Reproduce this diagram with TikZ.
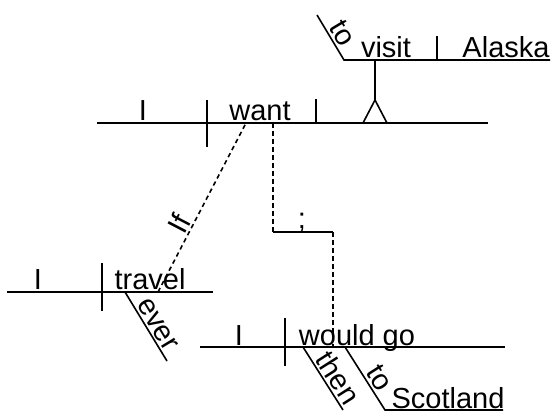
\documentclass[tikz,border=0pt]{standalone}
\usepackage{fontspec}
\setmainfont{Liberation Sans}
\begin{document}
\begin{tikzpicture}[x=1pt,y=-1pt, line width=1.6pt,
  every node/.style={font=\fontsize{29}{33}\selectfont, inner sep=0pt},
  word/.style={anchor=base},
  slab/.style={sloped, above, inner sep=2pt},
  dsh/.style={dash pattern=on 4.5pt off 3.5pt}]
\useasboundingbox (0,0) rectangle (556,412);

% ---- main clause: I want ...
\coordinate (mL) at (97,123); \coordinate (mR) at (488,123);
\coordinate (sv1) at (207,100); \coordinate (sv2) at (207,147);
\coordinate (vo1) at (316,99); \coordinate (vo2) at (316,123);
\draw (mL) -- (mR);
\draw (sv1) -- (sv2);
\draw (vo1) -- (vo2);
\node[word] (I1) at (143,120) {I};
\node[word] (want) at (260,120) {want};

% ---- infinitive phrase: to visit Alaska
\coordinate (tTo) at (317,15); \coordinate (tL) at (344,60); \coordinate (tR) at (550,60);
\coordinate (vb1) at (437,36); \coordinate (vb2) at (437,60);
\coordinate (st1) at (375,60); \coordinate (st2) at (375,100);
\coordinate (lg1) at (363,123); \coordinate (lg2) at (387,123);
\draw (tTo) -- node[slab, pos=0.55]{to} (tL) -- (tR);
\draw (vb1) -- (vb2);
\draw (st1) -- (st2);
\draw (lg1) -- (st2) -- (lg2);
\node[word] (visit) at (386,57) {visit};
\node[word] (alaska) at (506,57) {Alaska};

% ---- subordinate clause: If I ever travel
\coordinate (ifT) at (246,123); \coordinate (ifB) at (158,292);
\draw[dsh] (ifB) -- node[slab, pos=0.37]{If} (ifT);
\coordinate (trL) at (7,292); \coordinate (trR) at (213,292);
\coordinate (td1) at (102,263); \coordinate (td2) at (102,311);
\coordinate (ev1) at (125,292); \coordinate (ev2) at (167,361);
\draw (trL) -- (trR);
\draw (td1) -- (td2);
\draw (ev1) -- node[slab, pos=0.55]{ever} (ev2);
\node[word] (I2) at (38,289) {I};
\node[word] (travel) at (150,289) {travel};

% ---- semicolon connector
\coordinate (sc1) at (273,123); \coordinate (sc2) at (273,232);
\coordinate (sc3) at (333,232); \coordinate (sc4) at (333,347);
\draw[dsh] (sc1) -- (sc2);
\draw (sc2) -- (sc3);
\draw[dsh] (sc3) -- (sc4);
\node[word] (semi) at (302,228) {;};

% ---- second clause: I would go then to Scotland
\coordinate (wL) at (200,347); \coordinate (wR) at (505,347);
\coordinate (wd1) at (285,318); \coordinate (wd2) at (285,366);
\coordinate (th1) at (303,347); \coordinate (th2) at (343,410);
\coordinate (to1) at (345,347); \coordinate (to2) at (385,410);
\coordinate (scR) at (503,410);
\draw (wL) -- (wR);
\draw (wd1) -- (wd2);
\draw (th1) -- node[slab, pos=0.6]{then} (th2);
\draw (to1) -- node[slab, pos=0.6]{to} (to2) -- (scR);
\node[word] (I3) at (239,345) {I};
\node[word] (wgo) at (357,345) {would go};
\node[word] (scot) at (448,408) {Scotland};
\end{tikzpicture}
\end{document}
